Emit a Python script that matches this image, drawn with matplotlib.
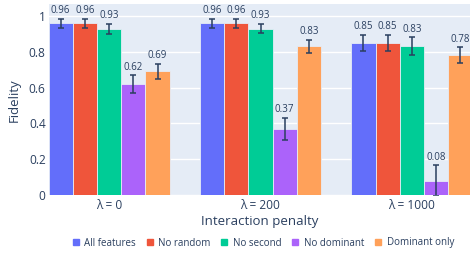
import numpy as np
import matplotlib.pyplot as plt
from matplotlib.lines import Line2D

plt.rcParams['font.family'] = ['Open Sans', 'DejaVu Sans']

groups = ['λ = 0', 'λ = 200', 'λ = 1000']
series = ['All features', 'No random', 'No second', 'No dominant', 'Dominant only']
colors = ['#636efa', '#EF553B', '#00cc96', '#ab63fa', '#FFA15A']

values = [
    [0.96, 0.96, 0.85],   # All features
    [0.96, 0.96, 0.85],   # No random
    [0.93, 0.93, 0.83],   # No second
    [0.62, 0.37, 0.08],   # No dominant
    [0.69, 0.83, 0.78],   # Dominant only
]
errors = [
    [0.025, 0.025, 0.045],
    [0.025, 0.025, 0.045],
    [0.028, 0.025, 0.050],
    [0.050, 0.060, 0.085],
    [0.042, 0.036, 0.045],
]

TXT = '#2a3f5f'
W, H = 470, 254
fig = plt.figure(figsize=(W / 100, H / 100), dpi=100)
ax = fig.add_axes([48.5 / W, (H - 195) / H, 424 / W, 191 / H])
ax.set_facecolor('#E5ECF6')

x = np.arange(len(groups))
bw = 0.16
for i, name in enumerate(series):
    pos = x + (i - 2) * bw
    ax.bar(pos, values[i], width=bw, color=colors[i], edgecolor='#E5ECF6',
           linewidth=0.6, zorder=2)
    ax.errorbar(pos, values[i], yerr=errors[i], fmt='none', ecolor=TXT,
                elinewidth=1.1, capsize=2.2, capthick=1.1, zorder=3)
    for px, v, e in zip(pos, values[i], errors[i]):
        ax.annotate(f'{v:.2f}', (px, v + e), xytext=(0, 4), textcoords='offset points',
                    ha='center', va='baseline', fontsize=7, color=TXT)

ax.set_xlim(-0.4, 2.4)
ax.set_ylim(0, 1.067)
ax.set_xticks(x)
ax.set_xticklabels(groups)
ax.set_yticks([0, 0.2, 0.4, 0.6, 0.8, 1])
ax.set_yticklabels(['0', '0.2', '0.4', '0.6', '0.8', '1'])
ax.tick_params(length=0, labelsize=8.6, colors=TXT)
ax.tick_params(axis='y', pad=2)
ax.tick_params(axis='x', pad=3)
ax.grid(axis='y', color='white', linewidth=1, zorder=0)
ax.set_axisbelow(True)
for s in ax.spines.values():
    s.set_visible(False)

fig.text(14 / W, 1 - 100 / H, 'Fidelity', rotation=90, ha='center', va='center',
         fontsize=9.5, color=TXT)
fig.text(260 / W, 1 - 222 / H, 'Interaction penalty', ha='center', va='center',
         fontsize=9.5, color=TXT)

handles = [Line2D([], [], marker='s', linestyle='none', markersize=4.5, color=c)
           for c in colors]
fig.legend(handles, series, loc='center', bbox_to_anchor=(263 / W, 1 - 243 / H),
           ncol=5, frameon=False, fontsize=7, handlelength=0.8, handletextpad=0.5,
           columnspacing=1.0, labelcolor=TXT)

fig.savefig('out.png', dpi=100)
